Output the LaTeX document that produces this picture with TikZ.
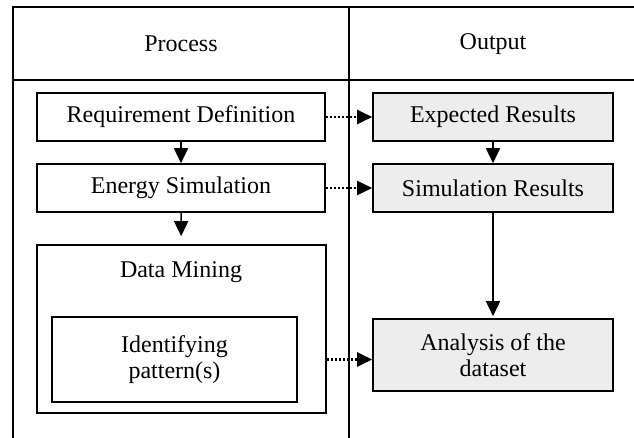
\documentclass[tikz,border=0pt]{standalone}
\usepackage{fontspec}
\setmainfont{Liberation Serif}
\usetikzlibrary{arrows.meta}

\tikzset{
  every node/.style={font=\fontsize{24}{26}\selectfont, align=center, inner sep=0pt},
  procbox/.style={draw=black, line width=1.6pt, fill=white},
  outbox/.style={draw=black, line width=1.6pt, fill=black!7},
  grid line/.style={line width=1.8pt},
  flow/.style={line width=1.6pt, -{Triangle[length=15pt,width=14pt]}},
  link/.style={line width=2.2pt, dash pattern=on 2.5pt off 1.5pt, -{Triangle[length=15pt,width=14pt]}}
}

\begin{document}
\begin{tikzpicture}[x=1pt,y=-1pt]
  \useasboundingbox (0,0) rectangle (634,438);

  % table frame: columns and header row
  \coordinate (tl) at (13,7);
  \coordinate (tr) at (634,7);
  \coordinate (bl) at (13,438);
  \coordinate (dt) at (349,7);
  \coordinate (db) at (349,438);
  \coordinate (hl) at (13,80);
  \coordinate (hr) at (634,80);
  \draw[grid line] (bl) -- (tl) -- (tr);
  \draw[grid line] (dt) -- (db);
  \draw[grid line] (hl) -- (hr);

  \node (hproc) at (181,44) {Process};
  \node (hout)  at (493,44) {Output};

  % process column
  \node[procbox, minimum width=288pt, minimum height=48pt] (req) at (181,117) {Requirement Definition};
  \node[procbox, minimum width=288pt, minimum height=48pt] (sim) at (181,188) {Energy Simulation};
  \node[procbox, minimum width=289pt, minimum height=168pt] (dm) at (181.5,329) {};
  \node (dmlabel) at (181,272) {Data Mining};
  \node[procbox, minimum width=245pt, minimum height=85pt] (pat) at (174.5,359.5) {Identifying\\pattern(s)};

  % output column
  \node[outbox, minimum width=240pt, minimum height=48pt] (exp) at (493,117) {Expected Results};
  \node[outbox, minimum width=240pt, minimum height=48pt] (res) at (493,188) {Simulation Results};
  \node[outbox, minimum width=240pt, minimum height=72pt] (ana) at (493,355) {Analysis of the\\dataset};

  % sequence arrows
  \draw[flow] (req) -- (sim);
  \draw[flow, shorten >=8pt] (sim) -- (dm);
  \draw[flow] (exp) -- (res);
  \draw[flow, shorten >=2pt] (res) -- (ana);

  % process-to-output links
  \draw[link] (req) -- (exp);
  \draw[link] (sim) -- (res);
  \draw[link] (pat.east -| dm.east) -- (pat.east -| ana.west);
\end{tikzpicture}
\end{document}
